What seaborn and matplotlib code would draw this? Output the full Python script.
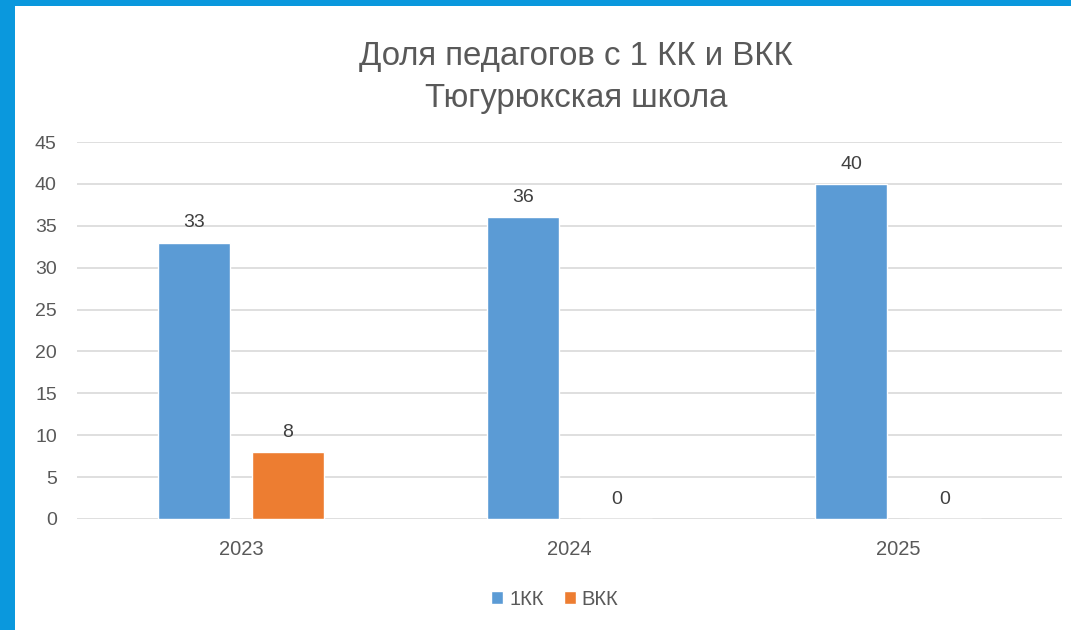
import matplotlib
matplotlib.use("Agg")
import matplotlib.pyplot as plt
import seaborn as sns
import pandas as pd
from matplotlib.patches import Rectangle

years = ["2023", "2024", "2025"]
series_names = ["1КК", "ВКК"]
vals_1kk = [33, 36, 40]
vals_vkk = [8, 0, 0]
yticks = [0, 5, 10, 15, 20, 25, 30, 35, 40, 45]
title_lines = ["Доля педагогов с 1 КК и ВКК", "Тюгурюкская школа"]

df = pd.DataFrame({
    "year": years * 2,
    "series": [series_names[0]] * 3 + [series_names[1]] * 3,
    "value": vals_1kk + vals_vkk,
})

sns.set_theme(style="white")
plt.rcParams["font.family"] = ["Liberation Sans", "DejaVu Sans"]

fig = plt.figure(figsize=(10.71, 6.3), dpi=100)
fig.patch.set_facecolor("white")
ax = fig.add_axes([0.0719, 0.1762, 0.9197, 0.5984])

palette = {"1КК": "#5B9BD5", "ВКК": "#ED7D31"}
sns.barplot(data=df, x="year", y="value", hue="series", order=years,
            hue_order=series_names, palette=palette, width=0.57, gap=0.23,
            saturation=1, ax=ax, legend=True)

ax.set_ylim(0, 45)
ax.set_yticks(yticks)
ax.set_xlim(-0.5, 2.5)
ax.grid(axis="y", color="#D9D9D9", linewidth=1.2)
ax.set_axisbelow(True)
for s in ax.spines.values():
    s.set_visible(False)
ax.set_xlabel("")
ax.set_ylabel("")
ax.tick_params(axis="both", length=0, colors="#595959")
ax.tick_params(axis="x", pad=15, labelsize=14.5)
ax.tick_params(axis="y", pad=14.5, labelsize=14)

for cont in ax.containers:
    ax.bar_label(cont, fmt="%d", padding=8, fontsize=14, color="#404040")

handles, labels = ax.get_legend_handles_labels()
ax.legend_.remove()
fig.legend(handles, labels, loc="center", bbox_to_anchor=(0.518, 0.049),
           ncol=2, frameon=False, fontsize=14.5, labelcolor="#595959",
           handlelength=0.6, handleheight=0.6, handletextpad=0.3,
           columnspacing=1.0)

fig.text(0.538, 0.910, title_lines[0], ha="center", va="center",
         fontsize=23.8, color="#595959")
fig.text(0.538, 0.843, title_lines[1], ha="center", va="center",
         fontsize=23.8, color="#595959")

# blue frame on the left and top
fig.patches.append(Rectangle((0, 0), 15 / 1071, 1, transform=fig.transFigure,
                             facecolor="#0A98DD", edgecolor="none", zorder=10))
fig.patches.append(Rectangle((0, 1 - 6 / 630), 1, 6 / 630, transform=fig.transFigure,
                             facecolor="#0A98DD", edgecolor="none", zorder=10))

fig.savefig("out.png", dpi=100)
